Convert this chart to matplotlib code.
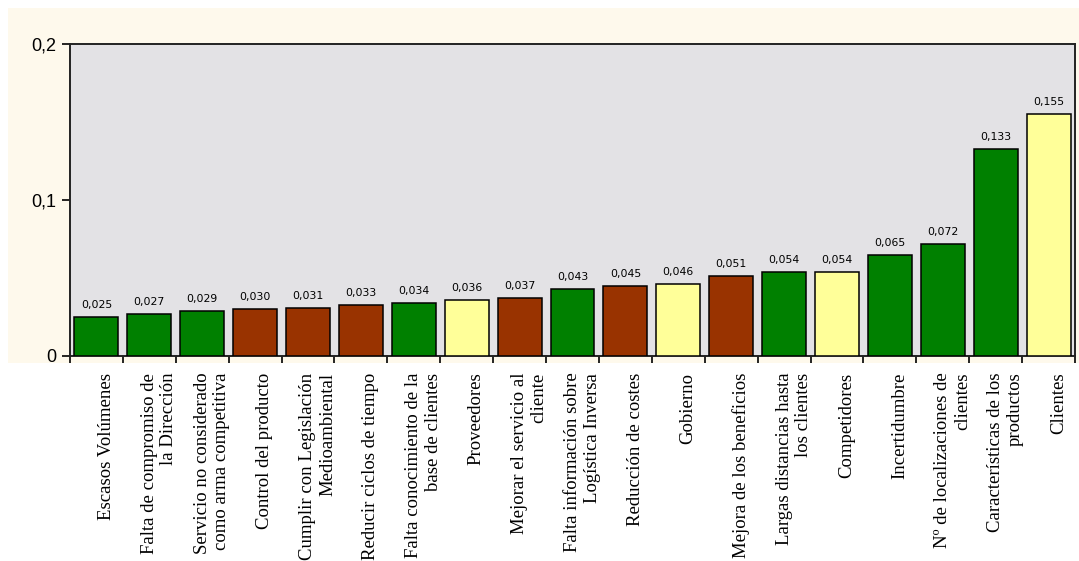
import matplotlib
matplotlib.use("Agg")
import matplotlib.pyplot as plt
import matplotlib.transforms as mtransforms
from matplotlib.patches import Rectangle
import numpy as np

# barreras / factores y su peso
categorias = [
    "Escasos Volúmenes",
    "Falta de compromiso de\nla Dirección",
    "Servicio no considerado\ncomo arma competitiva",
    "Control del producto",
    "Cumplir con Legislación\nMedioambiental",
    "Reducir ciclos de tiempo",
    "Falta conocimiento de la\nbase de clientes",
    "Proveedores",
    "Mejorar el servicio al\ncliente",
    "Falta información sobre\nLogística Inversa",
    "Reducción de costes",
    "Gobierno",
    "Mejora de los beneficios",
    "Largas distancias hasta\nlos clientes",
    "Competidores",
    "Incertidumbre",
    "Nº de localizaciones de\nclientes",
    "Características de los\nproductos",
    "Clientes",
]
valores = [0.025, 0.027, 0.029, 0.030, 0.031, 0.033, 0.034, 0.036, 0.037,
           0.043, 0.045, 0.046, 0.051, 0.054, 0.054, 0.065, 0.072, 0.133, 0.155]
grupos = ["v", "v", "v", "m", "m", "m", "v", "a", "m",
          "v", "m", "a", "m", "v", "a", "v", "v", "v", "a"]

colores_grupo = {"v": "#008000", "m": "#993300", "a": "#FFFF99"}
colores = [colores_grupo[g] for g in grupos]

fig = plt.figure(figsize=(10.79, 5.61), dpi=100, facecolor="white")
# fondo crema del grafico
fig.patches.append(Rectangle((8 / 1079, 1 - 363 / 561), 1 - 8 / 1079, (363 - 8) / 561,
                             transform=fig.transFigure, facecolor="#FEF9EC",
                             edgecolor="none", zorder=-5))

ax = fig.add_axes([70 / 1079, 1 - 356 / 561, (1075 - 70) / 1079, (356 - 44) / 561])
ax.set_facecolor("#E3E2E5")

x = np.arange(len(valores))
ax.bar(x, valores, width=0.83, color=colores, edgecolor="black", linewidth=1.1, zorder=3)

for xi, v in zip(x, valores):
    ax.annotate(("%.3f" % v).replace(".", ","), (xi, v), xytext=(0, 5),
                textcoords="offset points", ha="center", va="bottom",
                fontsize=7.8, family="DejaVu Sans", color="black")

ax.set_xlim(-0.5, len(valores) - 0.5)
ax.set_ylim(0, 0.2)
ax.set_yticks([0, 0.1, 0.2])
ax.set_yticklabels(["0", "0,1", "0,2"], family="Liberation Sans", fontsize=13)
ax.tick_params(axis="y", direction="out", length=6, width=1.2, pad=4)

ax.set_xticks(x)
ax.set_xticklabels(categorias, rotation=90, family="Liberation Serif", fontsize=13.5,
                   ha="center", va="top", multialignment="right", linespacing=1.2)
ax.tick_params(axis="x", which="major", length=0, pad=12)
ax.set_xticks(np.arange(-0.5, len(valores)), minor=True)
ax.tick_params(axis="x", which="minor", direction="out", length=5, width=1.2)

# desplazar las etiquetas un poco a la derecha
desplazamiento = mtransforms.ScaledTranslation(7 / 72, 0, fig.dpi_scale_trans)
for lbl in ax.get_xticklabels():
    lbl.set_transform(lbl.get_transform() + desplazamiento)

for s in ax.spines.values():
    s.set_linewidth(1.4)
    s.set_color("#222222")

fig.savefig("out.png", dpi=100, facecolor=fig.get_facecolor())
